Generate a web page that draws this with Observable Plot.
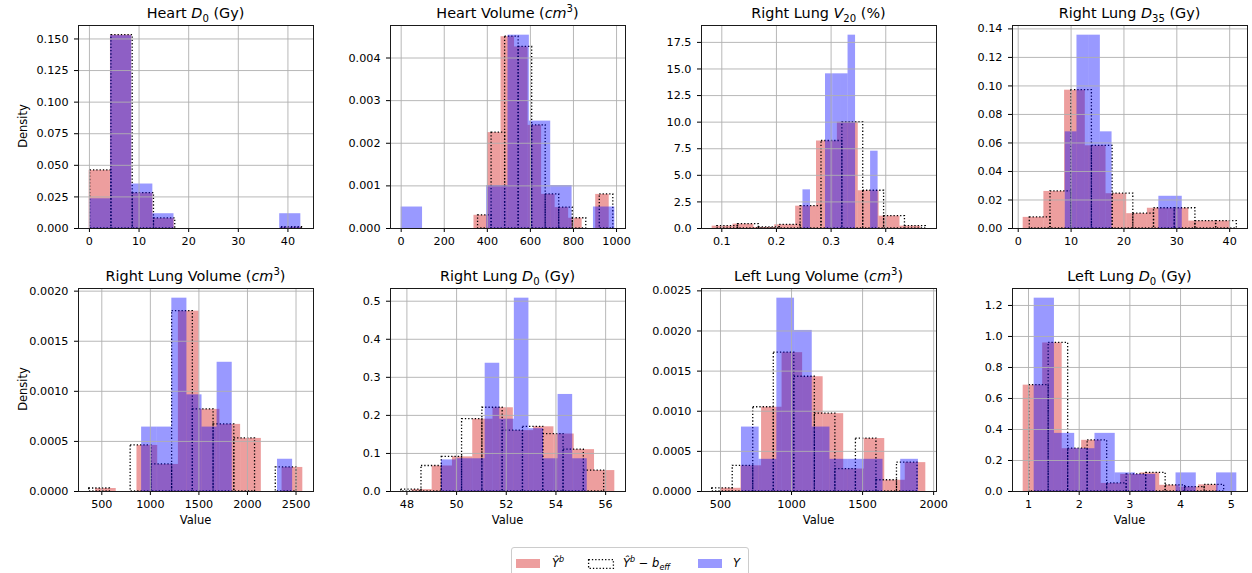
<!DOCTYPE html>
<html>
<head>
<meta charset="utf-8">
<script src="https://cdn.jsdelivr.net/npm/d3@7"></script>
<script src="https://cdn.jsdelivr.net/npm/@observablehq/plot@0.6"></script>
<style>
  body { margin: 0; background: #fff; }
  #fig { position: relative; width: 1252px; height: 573px; overflow: hidden; background: #fff;
         font-family: "DejaVu Sans", sans-serif; color: #000; }
  .title { position: absolute; font-size: 14.4px; line-height: 14.4px; white-space: nowrap; transform: translateX(-50%); }
  .lab { position: absolute; font-size: 11.5px; line-height: 11.5px; white-space: nowrap; }
  sub, sup { font-size: 70%; line-height: 0; }
  #legend { position: absolute; left: 511px; top: 547px; width: 236px; height: 40px;
            border: 1px solid #cccccc; border-radius: 3px; background: #fff; }
  .sw { position: absolute; top: 11px; width: 24px; height: 9px; }
  .lt { position: absolute; top: 8px; font-size: 11.5px; line-height: 14px; white-space: nowrap; }
</style>
</head>
<body>
<div id="fig"></div>
<script>
// ---------------- data ----------------
const panelTitles = [
  'Heart <i>D</i><sub>0</sub> (Gy)',
  'Heart Volume (<i>cm</i><sup>3</sup>)',
  'Right Lung <i>V</i><sub>20</sub> (%)',
  'Right Lung <i>D</i><sub>35</sub> (Gy)',
  'Right Lung Volume (<i>cm</i><sup>3</sup>)',
  'Right Lung <i>D</i><sub>0</sub> (Gy)',
  'Left Lung Volume (<i>cm</i><sup>3</sup>)',
  'Left Lung <i>D</i><sub>0</sub> (Gy)'
];

// value ranges of each series (10 equal bins between them)
const hatRange   = [[-0.05, 42.8], [338, 966], [0.0824, 0.4642], [0.94, 40.1], [435, 2570], [48.2, 56.37], [500, 1945], [0.895, 4.742]];
const shiftRange = [[0.15, 43.0], [357, 985], [0.0915, 0.4733], [2.19, 41.35], [370, 2505], [47.77, 55.94], [441.5, 1886.5], [1.013, 4.86]];
const obsRange   = [[0, 42.6], [0, 992], [0.2485, 0.386], [8.9, 31.03], [910, 2465], [49.39, 55.26], [647.5, 1893], [1.112, 5.11]];

// densities per bin: Ŷ^b
const hatDensity = [
  [0.046, 0.153, 0.028, 0.008, 0, 0, 0, 0, 0, 0.001],
  [0.00031, 0.00225, 0.0045, 0.00426, 0.00242, 0.0008, 0.00049, 0.00024, 0, 0.0008],
  [0.22, 0.41, 0.10, 0.35, 2.1, 8.23, 9.99, 3.55, 1.16, 0.22],
  [0.0078, 0.026, 0.097, 0.058, 0.0244, 0.0104, 0.0142, 0.0142, 0.0052, 0.0052],
  [0.00003, 0, 0.00046, 0.00027, 0.0018, 0.00082, 0.00067, 0.00053, 0, 0.00024],
  [0.005, 0.067, 0.091, 0.19, 0.22, 0.16, 0.17, 0.151, 0.11, 0.055],
  [0.00004, 0.00032, 0.00105, 0.00173, 0.00143, 0.00097, 0.00028, 0.00066, 0.00014, 0.00036],
  [0.686, 0.958, 0.276, 0.33, 0.052, 0.11, 0.12, 0.04, 0.028, 0.043]
];
// densities per bin: Ŷ^b − b_eff
const shiftDensity = [
  [0.046, 0.153, 0.028, 0.008, 0, 0, 0, 0, 0, 0.001],
  [0.00031, 0.00225, 0.0045, 0.00426, 0.00242, 0.0008, 0.00049, 0.00024, 0, 0.0008],
  [0.22, 0.41, 0.10, 0.35, 2.1, 8.23, 9.99, 3.55, 1.16, 0.22],
  [0.0078, 0.026, 0.097, 0.058, 0.0244, 0.0104, 0.0142, 0.0142, 0.0052, 0.0052],
  [0.00003, 0, 0.00046, 0.00027, 0.0018, 0.00082, 0.00067, 0.00053, 0, 0.00024],
  [0.005, 0.067, 0.091, 0.19, 0.22, 0.16, 0.17, 0.151, 0.11, 0.055],
  [0.00004, 0.00032, 0.00105, 0.00173, 0.00143, 0.00097, 0.00028, 0.00066, 0.00014, 0.00036],
  [0.686, 0.958, 0.276, 0.33, 0.052, 0.11, 0.12, 0.04, 0.028, 0.043]
];
// densities per bin: Y
const obsDensity = [
  [0.0235, 0.1526, 0.0352, 0.0117, 0, 0, 0, 0, 0, 0.0117],
  [0.000504, 0, 0, 0, 0.001008, 0.004536, 0.00252, 0.001008, 0, 0.000504],
  [3.636, 0, 0, 14.545, 14.545, 14.545, 18.18, 0, 0, 7.27],
  [0.0678, 0.1356, 0.1356, 0.0678, 0, 0, 0, 0, 0.0226, 0.0226],
  [0.000643, 0.000643, 0.00193, 0.000965, 0.000643, 0.00129, 0, 0, 0, 0.000322],
  [0.083, 0.086, 0.086, 0.337, 0.19, 0.508, 0.165, 0.086, 0.255, 0.086],
  [0.000803, 0.000401, 0.002409, 0.002007, 0.000803, 0.000401, 0.000401, 0.000401, 0, 0.000401],
  [1.247, 0.375, 0.276, 0.375, 0.12, 0.11, 0, 0.12, 0, 0.12]
];

const xTicks = [
  [0, 10, 20, 30, 40], [0, 200, 400, 600, 800, 1000], [0.1, 0.2, 0.3, 0.4], [0, 10, 20, 30, 40],
  [500, 1000, 1500, 2000, 2500], [48, 50, 52, 54, 56], [500, 1000, 1500, 2000], [1, 2, 3, 4, 5]
];
const xTickFormats = ["d", "d", ".1f", "d", "d", "d", "d", "d"];
const yTicks = [
  [0, 0.025, 0.05, 0.075, 0.1, 0.125, 0.15],
  [0, 0.001, 0.002, 0.003, 0.004],
  [0, 2.5, 5, 7.5, 10, 12.5, 15, 17.5],
  [0, 0.02, 0.04, 0.06, 0.08, 0.1, 0.12, 0.14],
  [0, 0.0005, 0.001, 0.0015, 0.002],
  [0, 0.1, 0.2, 0.3, 0.4, 0.5],
  [0, 0.0005, 0.001, 0.0015, 0.002, 0.0025],
  [0, 0.2, 0.4, 0.6, 0.8, 1.0, 1.2]
];
const yTickFormats = [".3f", ".3f", ".1f", ".2f", ".4f", ".1f", ".4f", ".1f"];

// ---------------- layout ----------------
const fig = document.getElementById("fig");
const axLeft = [78, 390, 701, 1012];
const axTop = [24.5, 287.5];
const AW = 235, AH = 203;
const ML = 62, MR = 8, MT = 8, MB = 26;

function bins(range, dens) {
  const [lo, hi] = range;
  const w = (hi - lo) / dens.length;
  return dens.map((d, i) => ({x1: lo + i * w, x2: lo + (i + 1) * w, y1: 0, y2: d}));
}

for (let p = 0; p < 8; p++) {
  const col = p % 4, row = Math.floor(p / 4);
  const hat = bins(hatRange[p], hatDensity[p]);
  const sh = bins(shiftRange[p], shiftDensity[p]);
  const ob = bins(obsRange[p], obsDensity[p]);
  const xmin = Math.min(hatRange[p][0], shiftRange[p][0], obsRange[p][0]);
  const xmax = Math.max(hatRange[p][1], shiftRange[p][1], obsRange[p][1]);
  const pad = 0.05 * (xmax - xmin);
  const ymax = Math.max(...hatDensity[p], ...shiftDensity[p], ...obsDensity[p]) * 1.05;

  const svg = Plot.plot({
    width: ML + AW + MR,
    height: MT + AH + MB,
    marginLeft: ML, marginRight: MR, marginTop: MT, marginBottom: MB,
    x: {domain: [xmin - pad, xmax + pad]},
    y: {domain: [0, ymax]},
    style: {fontFamily: "DejaVu Sans", fontSize: "11.2px", background: "transparent", overflow: "visible", color: "#000"},
    marks: [
      Plot.rect(hat, {x1: "x1", x2: "x2", y1: "y1", y2: "y2", fill: "#d62728", fillOpacity: 0.45}),
      Plot.rect(sh, {x1: "x1", x2: "x2", y1: "y1", y2: "y2", fill: "none", stroke: "#000",
                     strokeWidth: 1.3, strokeDasharray: "1.3,2"}),
      Plot.rect(ob, {x1: "x1", x2: "x2", y1: "y1", y2: "y2", fill: "#0000ff", fillOpacity: 0.4}),
      Plot.gridX(xTicks[p], {stroke: "#b0b0b0", strokeOpacity: 1, strokeWidth: 0.9}),
      Plot.gridY(yTicks[p], {stroke: "#b0b0b0", strokeOpacity: 1, strokeWidth: 0.9}),
      Plot.axisX(xTicks[p], {tickSize: 4, tickPadding: 5, tickFormat: d3.format(xTickFormats[p]), label: null}),
      Plot.axisY(yTicks[p], {tickSize: 4, tickPadding: 6, tickFormat: d3.format(yTickFormats[p]), label: null}),
      Plot.frame({stroke: "#1a1a1a", strokeWidth: 1})
    ]
  });
  svg.style.position = "absolute";
  svg.style.left = (axLeft[col] - ML) + "px";
  svg.style.top = (axTop[row] - MT) + "px";
  svg.style.maxWidth = "none";
  fig.appendChild(svg);

  const t = document.createElement("div");
  t.className = "title";
  t.innerHTML = panelTitles[p];
  t.style.left = (axLeft[col] + AW / 2) + "px";
  t.style.top = (row === 0 ? 5.9 : 269.2) + "px";
  fig.appendChild(t);

  if (col === 0) {
    const d = document.createElement("div");
    d.className = "lab";
    d.textContent = "Density";
    d.style.left = "24px";
    d.style.top = (axTop[row] + AH / 2) + "px";
    d.style.transform = "translate(-50%,-50%) rotate(-90deg)";
    fig.appendChild(d);
  }
  if (row === 1) {
    const v = document.createElement("div");
    v.className = "lab";
    v.textContent = "Value";
    v.style.left = (axLeft[col] + AW / 2) + "px";
    v.style.top = "521px";
    v.style.transform = "translate(-50%,-50%)";
    fig.appendChild(v);
  }
}

// ---------------- legend ----------------
const legend = document.createElement("div");
legend.id = "legend";
legend.innerHTML = `
  <div class="sw" style="left:4px;background:rgba(214,39,40,0.45)"></div>
  <div class="lt" style="left:40px"><i>Ŷ</i><sup><i>b</i></sup></div>
  <svg class="sw" style="left:76px;width:26px;height:10px;overflow:visible" viewBox="0 0 26 10">
    <rect x="0.6" y="0.6" width="24.8" height="8.8" fill="none" stroke="#000" stroke-width="1.3" stroke-dasharray="1.3,2"></rect>
  </svg>
  <div class="lt" style="left:111px"><i>Ŷ</i><sup><i>b</i></sup> − <i>b</i><sub><i>eff</i></sub></div>
  <div class="sw" style="left:186px;background:rgba(0,0,255,0.4)"></div>
  <div class="lt" style="left:221px"><i>Y</i></div>
`;
fig.appendChild(legend);
</script>
</body>
</html>
